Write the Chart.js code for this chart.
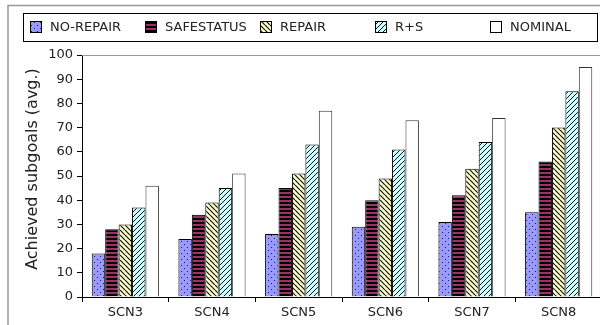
<!DOCTYPE html>
<html>
<head>
<meta charset="utf-8">
<script src="https://cdn.jsdelivr.net/npm/chart.js@4.4.1/dist/chart.umd.min.js"></script>
<style>
  html, body { margin: 0; padding: 0; background: #fff; overflow: hidden; }
  #wrap { position: relative; width: 602px; height: 325px; }
</style>
</head>
<body>
<div id="wrap"><canvas id="c" width="602" height="325"></canvas></div>
<script>
// Scenarios and average achieved subgoals per strategy
const categories = ['SCN3', 'SCN4', 'SCN5', 'SCN6', 'SCN7', 'SCN8'];
const seriesNames = ['NO-REPAIR', 'SAFESTATUS', 'REPAIR', 'R+S', 'NOMINAL'];
const noRepair   = [18, 24, 26, 29, 31, 35];
const safeStatus = [28, 34, 45, 40, 42, 56];
const repair     = [30, 39, 51, 49, 53, 70];
const repairSafe = [37, 45, 63, 61, 64, 85];
const nominal    = [46, 51, 77, 73, 74, 95];
const yTicks = [0, 10, 20, 30, 40, 50, 60, 70, 80, 90, 100];
const yTitle = 'Achieved subgoals (avg.)';

function tile(w, h, draw) {
  const c = document.createElement('canvas');
  c.width = w; c.height = h;
  const g = c.getContext('2d');
  draw(g, w, h);
  return g.createPattern(c, 'repeat');
}

// Fill patterns for each strategy
const patDots = tile(6, 6, (g) => {
  g.fillStyle = '#9999ff'; g.fillRect(0, 0, 6, 6);
  g.fillStyle = '#1a1a55';
  g.fillRect(1, 1, 1, 1);
  g.fillRect(4, 4, 1, 1);
});
const patStripes = tile(4, 4, (g) => {
  g.fillStyle = '#993366'; g.fillRect(0, 0, 4, 4);
  g.fillStyle = '#000'; g.fillRect(0, 2, 4, 2);
});
function diag(bg, dir, lw) {
  return tile(5, 5, (g) => {
    g.fillStyle = bg; g.fillRect(0, 0, 5, 5);
    g.strokeStyle = '#111'; g.lineWidth = lw;
    g.beginPath();
    if (dir > 0) {
      // "/" direction
      for (let k = -5; k <= 10; k += 5) { g.moveTo(k, 5); g.lineTo(k + 5, 0); }
    } else {
      // "\" direction
      for (let k = -5; k <= 10; k += 5) { g.moveTo(k, 0); g.lineTo(k + 5, 5); }
    }
    g.stroke();
  });
}
const patBack = diag('#ffffcc', -1, 1.2);
const patFwd = diag('#ccffff', 1, 1.0);

const fills = [patDots, patStripes, patBack, patFwd, '#ffffff'];
const borders = ['#000', '#000', '#000', '#000', '#333'];
const values = [noRepair, safeStatus, repair, repairSafe, nominal];

const FONT = '"DejaVu Sans", sans-serif';

const frame = {
  id: 'frame',
  beforeDraw(chart) {
    const ctx = chart.ctx;
    ctx.save();
    ctx.strokeStyle = '#999';
    ctx.lineWidth = 1.5;
    ctx.beginPath();
    ctx.moveTo(8, 330); ctx.lineTo(8, 5.5); ctx.lineTo(610, 5.5);
    ctx.stroke();
    ctx.restore();
  },
  afterDraw(chart) {
    const ctx = chart.ctx;
    const a = chart.chartArea;
    ctx.save();
    // top edge of the plot frame
    ctx.strokeStyle = '#999';
    ctx.lineWidth = 1;
    ctx.beginPath();
    ctx.moveTo(a.left, a.top + 0.5); ctx.lineTo(a.right, a.top + 0.5);
    ctx.stroke();

    // axis title
    ctx.fillStyle = '#222';
    ctx.font = '16px ' + FONT;
    ctx.textAlign = 'center';
    ctx.textBaseline = 'middle';
    ctx.translate(33, 169);
    ctx.rotate(-Math.PI / 2);
    ctx.fillText(yTitle, 0, 0);
    ctx.restore();

    // legend box
    ctx.save();
    ctx.strokeStyle = '#000';
    ctx.lineWidth = 1;
    ctx.strokeRect(23.5, 13.5, 574, 28);
    ctx.font = '13px ' + FONT;
    ctx.textBaseline = 'middle';
    ctx.textAlign = 'left';
    chart.data.datasets.forEach((ds, i) => {
      const x = 30 + i * 115;
      ctx.fillStyle = ds.backgroundColor;
      ctx.fillRect(x, 21, 12, 12);
      ctx.strokeStyle = '#000';
      ctx.strokeRect(x + 0.5, 21.5, 11, 11);
      ctx.fillStyle = '#222';
      ctx.fillText(ds.label, x + 20, 27.5);
    });
    ctx.restore();
  }
};

new Chart(document.getElementById('c'), {
  type: 'bar',
  data: {
    labels: categories,
    datasets: seriesNames.map((name, i) => ({
      label: name,
      data: values[i],
      backgroundColor: fills[i],
      borderColor: borders[i],
      borderWidth: 1,
      categoryPercentage: 0.775,
      barPercentage: 1.0
    }))
  },
  options: {
    responsive: false,
    animation: false,
    events: [],
    layout: { padding: { top: 55, right: 0, left: 0, bottom: 0 } },
    plugins: { legend: { display: false }, tooltip: { enabled: false } },
    scales: {
      x: {
        offset: true,
        grid: { offset: true, drawOnChartArea: false, drawTicks: true, tickLength: 5, color: '#000' },
        border: { display: true, color: '#000', width: 1 },
        ticks: { color: '#222', font: { family: FONT, size: 13 }, padding: 3, maxRotation: 0 },
        afterFit(s) { s.height = 28; }
      },
      y: {
        min: 0, max: 100,
        afterBuildTicks(s) { s.ticks = yTicks.map(v => ({ value: v })); },
        grid: { drawOnChartArea: false, drawTicks: true, tickLength: 5, color: '#000' },
        border: { display: true, color: '#000', width: 1 },
        ticks: { color: '#222', font: { family: FONT, size: 13 }, padding: 4 },
        afterFit(s) { s.width = 82; }
      }
    }
  },
  plugins: [frame]
});
</script>
</body>
</html>
